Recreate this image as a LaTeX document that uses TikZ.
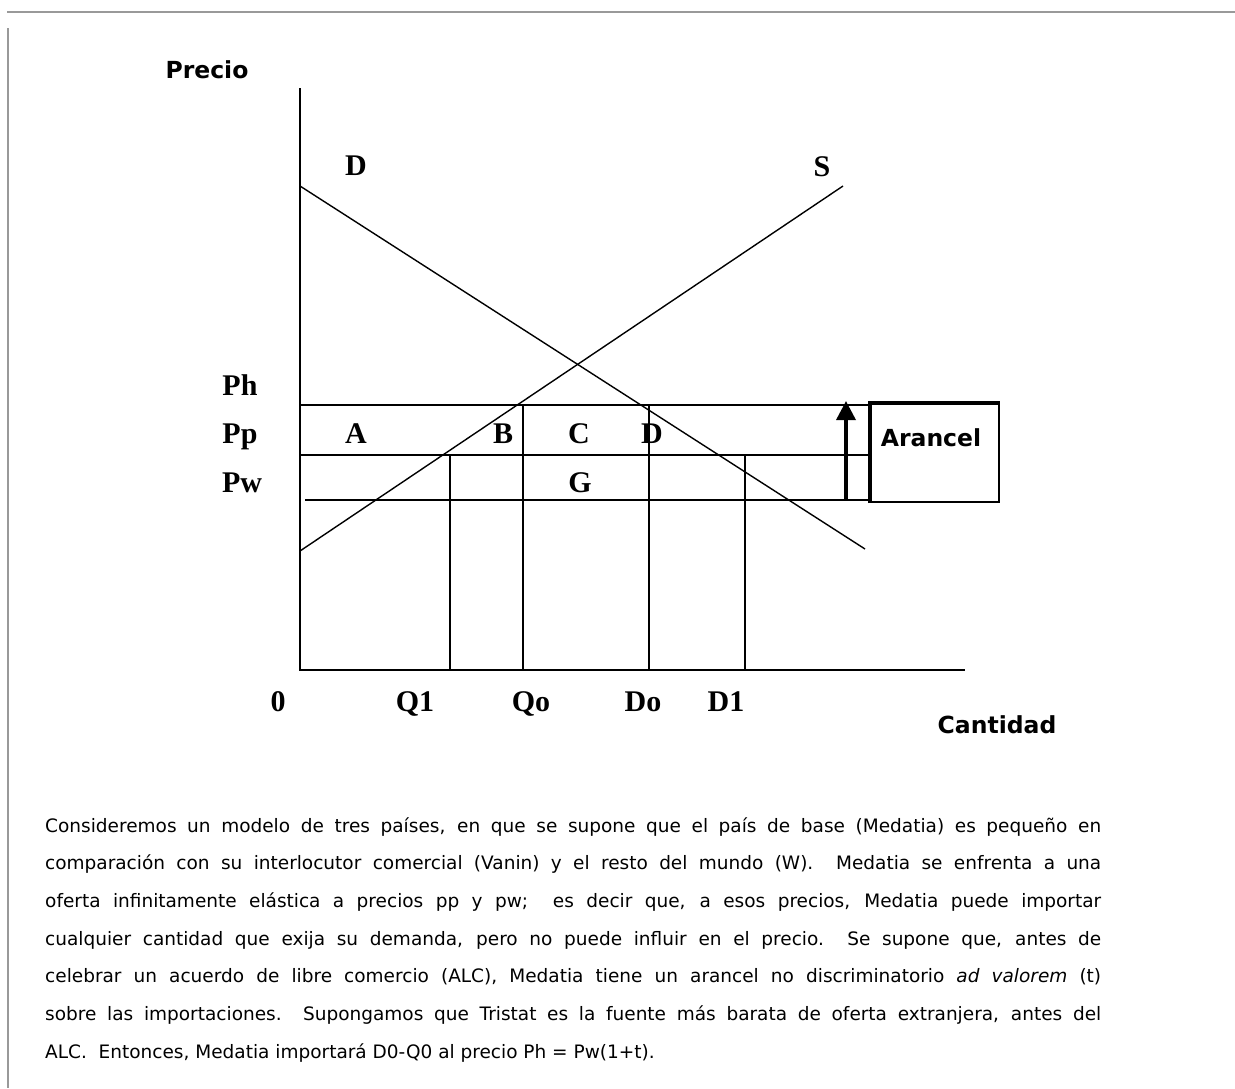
\documentclass[tikz,border=0pt]{standalone}
\usepackage{fontspec}
\newfontfamily\lblfont{Liberation Serif}
\newfontfamily\hdrfont{DejaVu Sans}
\newfontfamily\parfont{DejaVu Sans}
\usetikzlibrary{arrows.meta}

\begin{document}
\begin{tikzpicture}[x=1pt,y=-1pt,>={Triangle[width=19pt,length=19pt]}]
\tikzstyle{lbl}=[inner sep=0,anchor=base,font=\lblfont\bfseries\fontsize{30}{30}\selectfont]
\tikzstyle{hdr}=[inner sep=0,anchor=base,font=\hdrfont\bfseries\fontsize{23.5}{24}\selectfont]
\tikzstyle{grid}=[line width=2pt]
\tikzstyle{curve}=[line width=1.4pt]
\useasboundingbox (0,0) rectangle (1235,1088);
\draw[black!40,line width=2pt] (7,12) -- (1235,12);
\draw[black!40,line width=2pt] (8,28) -- (8,1088);
\coordinate (O) at (300,670);
\draw[grid] (300,88) -- (O) -- (965,670);
\draw[curve] (300,186) -- (865,549);
\draw[curve] (300,551) -- (843,186);
\foreach \x/\y in {300/405, 300/455, 305/500} \draw[grid] (\x,\y) -- (870,\y);
\foreach \x/\y in {450/455, 523/405, 649/405, 745/455} \draw[grid] (\x,\y) -- (\x,670);
\node[draw,line width=2pt,minimum width=128pt,minimum height=98pt,anchor=north west] (box) at (870,403) {};
\draw[line width=3.5pt] (box.south west) -- (box.north west) -- (box.north east);
\coordinate (arr0) at (846,500);
\coordinate (arr1) at (846,401);
\draw[->,line width=3.5pt] (arr0) -- (arr1);
\foreach \t/\x/\y [count=\i] in {Ph/240/395, Pp/240/443, Pw/242/492, A/356/443, B/503/443, C/579/443, D/652/443, G/580/492, D/356/175, S/822/176, 0/278/711, Q1/415/711, Qo/531/711, Do/643/711, D1/726/711}
  \node[lbl] (l\i) at (\x,\y) {\t};
\node[hdr] (precio) at (207,78) {Precio};
\node[hdr] (arancel) at (931,446) {Arancel};
\node[hdr] (cantidad) at (997,733) {Cantidad};
\node[inner sep=0,anchor=north west,text width=1056pt,align=justify,font=\parfont\fontsize{18.5}{37.7}\selectfont] (texto) at (45,817) {Consideremos un modelo de tres países, en que se supone que el país de base (Medatia) es pequeño en\linebreak
comparación con su interlocutor comercial (Vanin) y el resto del mundo (W).\ \ Medatia se enfrenta a una\linebreak
oferta infinitamente elástica a precios pp y pw;\ \ es decir que, a esos precios, Medatia puede importar\linebreak
cualquier cantidad que exija su demanda, pero no puede influir en el precio.\ \ Se supone que, antes de\linebreak
celebrar un acuerdo de libre comercio (ALC), Medatia tiene un arancel no discriminatorio \textit{ad valorem} (t)\linebreak
sobre las importaciones.\ \ Supongamos que Tristat es la fuente más barata de oferta extranjera, antes del\linebreak
ALC.\ \ Entonces, Medatia importará D0-Q0 al precio Ph = Pw(1+t).};
\end{tikzpicture}
\end{document}
